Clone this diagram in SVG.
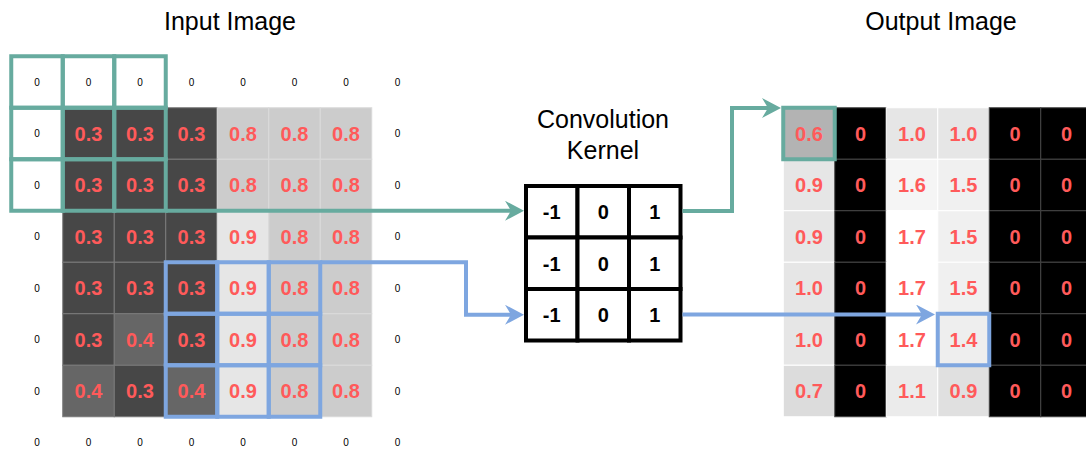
<svg xmlns="http://www.w3.org/2000/svg" width="1086" height="449" viewBox="0 0 1086 449">
<style>
.title{font-family:"Liberation Sans",Arial,sans-serif;font-size:25px;fill:#000;text-anchor:middle}
.z{font-family:"Liberation Sans",Arial,sans-serif;font-size:10px;fill:#000;text-anchor:middle}
.v{font-family:"Liberation Sans",Arial,sans-serif;font-size:20px;font-weight:bold;fill:#FF5A5A;text-anchor:middle}
.k{font-family:"Liberation Sans",Arial,sans-serif;font-size:20px;font-weight:bold;fill:#000;text-anchor:middle}
.d3{fill:#474747;stroke:#7a7a7a;stroke-width:1}
.d4{fill:#666666;stroke:#7a7a7a;stroke-width:1}
.l8{fill:#cccccc;stroke:#dadada;stroke-width:1}
.l9{fill:#e6e6e6;stroke:#dadada;stroke-width:1}
.ob{fill:#000;stroke:#444;stroke-width:1}
.ol{stroke:#ffffff;stroke-width:1}
.kc{fill:#fff;stroke:#000;stroke-width:4}
.gw{fill:none;stroke:#67AB9F;stroke-width:4}
.bw{fill:none;stroke:#7EA6E0;stroke-width:4}
.gl{fill:none;stroke:#67AB9F;stroke-width:4}
.bl{fill:none;stroke:#7EA6E0;stroke-width:4}
</style>
<defs>
<marker id="ag" viewBox="0 0 20 20" refX="11" refY="10" markerWidth="20" markerHeight="20" markerUnits="userSpaceOnUse" orient="auto">
<path d="M0,0 L19,10 L0,20 L6,10 Z" fill="#67AB9F"/>
</marker>
<marker id="ab" viewBox="0 0 20 20" refX="11" refY="10" markerWidth="20" markerHeight="20" markerUnits="userSpaceOnUse" orient="auto">
<path d="M0,0 L19,10 L0,20 L6,10 Z" fill="#7EA6E0"/>
</marker>
</defs>
<rect x="0" y="0" width="1086" height="449" fill="#fff"/>

<g id="title-input"><text class="title" x="230" y="30">Input Image</text></g>
<g id="title-output"><text class="title" x="941" y="30">Output Image</text></g>
<g id="title-kernel"><text class="title" x="603" y="128">Convolution</text><text class="title" x="603" y="159">Kernel</text></g>

<g id="input-image">
<rect class="d3" x="62.75" y="107.75" width="51.5" height="51.5"/><rect class="d3" x="114.25" y="107.75" width="51.5" height="51.5"/><rect class="d3" x="165.75" y="107.75" width="51.5" height="51.5"/><rect class="l8" x="217.25" y="107.75" width="51.5" height="51.5"/><rect class="l8" x="268.75" y="107.75" width="51.5" height="51.5"/><rect class="l8" x="320.25" y="107.75" width="51.5" height="51.5"/>
<rect class="d3" x="62.75" y="159.25" width="51.5" height="51.5"/><rect class="d3" x="114.25" y="159.25" width="51.5" height="51.5"/><rect class="d3" x="165.75" y="159.25" width="51.5" height="51.5"/><rect class="l8" x="217.25" y="159.25" width="51.5" height="51.5"/><rect class="l8" x="268.75" y="159.25" width="51.5" height="51.5"/><rect class="l8" x="320.25" y="159.25" width="51.5" height="51.5"/>
<rect class="d3" x="62.75" y="210.75" width="51.5" height="51.5"/><rect class="d3" x="114.25" y="210.75" width="51.5" height="51.5"/><rect class="d3" x="165.75" y="210.75" width="51.5" height="51.5"/><rect class="l9" x="217.25" y="210.75" width="51.5" height="51.5"/><rect class="l8" x="268.75" y="210.75" width="51.5" height="51.5"/><rect class="l8" x="320.25" y="210.75" width="51.5" height="51.5"/>
<rect class="d3" x="62.75" y="262.25" width="51.5" height="51.5"/><rect class="d3" x="114.25" y="262.25" width="51.5" height="51.5"/><rect class="d3" x="165.75" y="262.25" width="51.5" height="51.5"/><rect class="l9" x="217.25" y="262.25" width="51.5" height="51.5"/><rect class="l8" x="268.75" y="262.25" width="51.5" height="51.5"/><rect class="l8" x="320.25" y="262.25" width="51.5" height="51.5"/>
<rect class="d3" x="62.75" y="313.75" width="51.5" height="51.5"/><rect class="d4" x="114.25" y="313.75" width="51.5" height="51.5"/><rect class="d3" x="165.75" y="313.75" width="51.5" height="51.5"/><rect class="l9" x="217.25" y="313.75" width="51.5" height="51.5"/><rect class="l8" x="268.75" y="313.75" width="51.5" height="51.5"/><rect class="l8" x="320.25" y="313.75" width="51.5" height="51.5"/>
<rect class="d4" x="62.75" y="365.25" width="51.5" height="51.5"/><rect class="d3" x="114.25" y="365.25" width="51.5" height="51.5"/><rect class="d4" x="165.75" y="365.25" width="51.5" height="51.5"/><rect class="l9" x="217.25" y="365.25" width="51.5" height="51.5"/><rect class="l8" x="268.75" y="365.25" width="51.5" height="51.5"/><rect class="l8" x="320.25" y="365.25" width="51.5" height="51.5"/>

<text class="v" x="88.5" y="140.5">0.3</text><text class="v" x="140" y="140.5">0.3</text><text class="v" x="191.5" y="140.5">0.3</text><text class="v" x="243" y="140.5">0.8</text><text class="v" x="294.5" y="140.5">0.8</text><text class="v" x="346" y="140.5">0.8</text>
<text class="v" x="88.5" y="192">0.3</text><text class="v" x="140" y="192">0.3</text><text class="v" x="191.5" y="192">0.3</text><text class="v" x="243" y="192">0.8</text><text class="v" x="294.5" y="192">0.8</text><text class="v" x="346" y="192">0.8</text>
<text class="v" x="88.5" y="243.5">0.3</text><text class="v" x="140" y="243.5">0.3</text><text class="v" x="191.5" y="243.5">0.3</text><text class="v" x="243" y="243.5">0.9</text><text class="v" x="294.5" y="243.5">0.8</text><text class="v" x="346" y="243.5">0.8</text>
<text class="v" x="88.5" y="295">0.3</text><text class="v" x="140" y="295">0.3</text><text class="v" x="191.5" y="295">0.3</text><text class="v" x="243" y="295">0.9</text><text class="v" x="294.5" y="295">0.8</text><text class="v" x="346" y="295">0.8</text>
<text class="v" x="88.5" y="346.5">0.3</text><text class="v" x="140" y="346.5">0.4</text><text class="v" x="191.5" y="346.5">0.3</text><text class="v" x="243" y="346.5">0.9</text><text class="v" x="294.5" y="346.5">0.8</text><text class="v" x="346" y="346.5">0.8</text>
<text class="v" x="88.5" y="398">0.4</text><text class="v" x="140" y="398">0.3</text><text class="v" x="191.5" y="398">0.4</text><text class="v" x="243" y="398">0.9</text><text class="v" x="294.5" y="398">0.8</text><text class="v" x="346" y="398">0.8</text>

<text class="z" x="37" y="85.5">0</text><text class="z" x="88.5" y="85.5">0</text><text class="z" x="140" y="85.5">0</text><text class="z" x="191.5" y="85.5">0</text><text class="z" x="243" y="85.5">0</text><text class="z" x="294.5" y="85.5">0</text><text class="z" x="346" y="85.5">0</text><text class="z" x="397.5" y="85.5">0</text>
<text class="z" x="37" y="446">0</text><text class="z" x="88.5" y="446">0</text><text class="z" x="140" y="446">0</text><text class="z" x="191.5" y="446">0</text><text class="z" x="243" y="446">0</text><text class="z" x="294.5" y="446">0</text><text class="z" x="346" y="446">0</text><text class="z" x="397.5" y="446">0</text>
<text class="z" x="37" y="137">0</text><text class="z" x="37" y="188.5">0</text><text class="z" x="37" y="240">0</text><text class="z" x="37" y="291.5">0</text><text class="z" x="37" y="343">0</text><text class="z" x="37" y="394.5">0</text>
<text class="z" x="397.5" y="137">0</text><text class="z" x="397.5" y="188.5">0</text><text class="z" x="397.5" y="240">0</text><text class="z" x="397.5" y="291.5">0</text><text class="z" x="397.5" y="343">0</text><text class="z" x="397.5" y="394.5">0</text>
</g>

<g id="green-window">
<rect class="gw" x="11.25" y="56.25" width="51.5" height="51.5"/><rect class="gw" x="62.75" y="56.25" width="51.5" height="51.5"/><rect class="gw" x="114.25" y="56.25" width="51.5" height="51.5"/>
<rect class="gw" x="11.25" y="107.75" width="51.5" height="51.5"/><rect class="gw" x="62.75" y="107.75" width="51.5" height="51.5"/><rect class="gw" x="114.25" y="107.75" width="51.5" height="51.5"/>
<rect class="gw" x="11.25" y="159.25" width="51.5" height="51.5"/><rect class="gw" x="62.75" y="159.25" width="51.5" height="51.5"/><rect class="gw" x="114.25" y="159.25" width="51.5" height="51.5"/>
</g>

<g id="blue-window">
<rect class="bw" x="165.75" y="262.25" width="51.5" height="51.5"/><rect class="bw" x="217.25" y="262.25" width="51.5" height="51.5"/><rect class="bw" x="268.75" y="262.25" width="51.5" height="51.5"/>
<rect class="bw" x="165.75" y="313.75" width="51.5" height="51.5"/><rect class="bw" x="217.25" y="313.75" width="51.5" height="51.5"/><rect class="bw" x="268.75" y="313.75" width="51.5" height="51.5"/>
<rect class="bw" x="165.75" y="365.25" width="51.5" height="51.5"/><rect class="bw" x="217.25" y="365.25" width="51.5" height="51.5"/><rect class="bw" x="268.75" y="365.25" width="51.5" height="51.5"/>
</g>

<g id="kernel">
<rect class="kc" x="526" y="186" width="51.5" height="51.5"/><rect class="kc" x="577.5" y="186" width="51.5" height="51.5"/><rect class="kc" x="629" y="186" width="51.5" height="51.5"/>
<rect class="kc" x="526" y="237.5" width="51.5" height="51.5"/><rect class="kc" x="577.5" y="237.5" width="51.5" height="51.5"/><rect class="kc" x="629" y="237.5" width="51.5" height="51.5"/>
<rect class="kc" x="526" y="289" width="51.5" height="51.5"/><rect class="kc" x="577.5" y="289" width="51.5" height="51.5"/><rect class="kc" x="629" y="289" width="51.5" height="51.5"/>
<text class="k" x="551.75" y="219">-1</text><text class="k" x="603.25" y="219">0</text><text class="k" x="654.75" y="219">1</text>
<text class="k" x="551.75" y="270.5">-1</text><text class="k" x="603.25" y="270.5">0</text><text class="k" x="654.75" y="270.5">1</text>
<text class="k" x="551.75" y="322">-1</text><text class="k" x="603.25" y="322">0</text><text class="k" x="654.75" y="322">1</text>
</g>

<g id="output-image">
<rect class="ol" fill="#b3b3b3" x="783.25" y="107.75" width="51.5" height="51.5"/><rect class="ob" x="834.75" y="107.75" width="51.5" height="51.5"/><rect class="ol" fill="#e6e6e6" x="886.25" y="107.75" width="51.5" height="51.5"/><rect class="ol" fill="#e6e6e6" x="937.75" y="107.75" width="51.5" height="51.5"/><rect class="ob" x="989.25" y="107.75" width="51.5" height="51.5"/><rect class="ob" x="1040.75" y="107.75" width="51.5" height="51.5"/>
<rect class="ol" fill="#e6e6e6" x="783.25" y="159.25" width="51.5" height="51.5"/><rect class="ob" x="834.75" y="159.25" width="51.5" height="51.5"/><rect class="ol" fill="#f5f5f5" x="886.25" y="159.25" width="51.5" height="51.5"/><rect class="ol" fill="#f0f0f0" x="937.75" y="159.25" width="51.5" height="51.5"/><rect class="ob" x="989.25" y="159.25" width="51.5" height="51.5"/><rect class="ob" x="1040.75" y="159.25" width="51.5" height="51.5"/>
<rect class="ol" fill="#e6e6e6" x="783.25" y="210.75" width="51.5" height="51.5"/><rect class="ob" x="834.75" y="210.75" width="51.5" height="51.5"/><rect class="ol" fill="#ffffff" x="886.25" y="210.75" width="51.5" height="51.5"/><rect class="ol" fill="#f0f0f0" x="937.75" y="210.75" width="51.5" height="51.5"/><rect class="ob" x="989.25" y="210.75" width="51.5" height="51.5"/><rect class="ob" x="1040.75" y="210.75" width="51.5" height="51.5"/>
<rect class="ol" fill="#e6e6e6" x="783.25" y="262.25" width="51.5" height="51.5"/><rect class="ob" x="834.75" y="262.25" width="51.5" height="51.5"/><rect class="ol" fill="#ffffff" x="886.25" y="262.25" width="51.5" height="51.5"/><rect class="ol" fill="#f0f0f0" x="937.75" y="262.25" width="51.5" height="51.5"/><rect class="ob" x="989.25" y="262.25" width="51.5" height="51.5"/><rect class="ob" x="1040.75" y="262.25" width="51.5" height="51.5"/>
<rect class="ol" fill="#e6e6e6" x="783.25" y="313.75" width="51.5" height="51.5"/><rect class="ob" x="834.75" y="313.75" width="51.5" height="51.5"/><rect class="ol" fill="#ffffff" x="886.25" y="313.75" width="51.5" height="51.5"/><rect class="ol" fill="#eeeeee" x="937.75" y="313.75" width="51.5" height="51.5"/><rect class="ob" x="989.25" y="313.75" width="51.5" height="51.5"/><rect class="ob" x="1040.75" y="313.75" width="51.5" height="51.5"/>
<rect class="ol" fill="#dcdcdc" x="783.25" y="365.25" width="51.5" height="51.5"/><rect class="ob" x="834.75" y="365.25" width="51.5" height="51.5"/><rect class="ol" fill="#ebebeb" x="886.25" y="365.25" width="51.5" height="51.5"/><rect class="ol" fill="#e0e0e0" x="937.75" y="365.25" width="51.5" height="51.5"/><rect class="ob" x="989.25" y="365.25" width="51.5" height="51.5"/><rect class="ob" x="1040.75" y="365.25" width="51.5" height="51.5"/>

<text class="v" x="809" y="140.5">0.6</text><text class="v" x="860.5" y="140.5">0</text><text class="v" x="912" y="140.5">1.0</text><text class="v" x="963.5" y="140.5">1.0</text><text class="v" x="1015" y="140.5">0</text><text class="v" x="1066.5" y="140.5">0</text>
<text class="v" x="809" y="192">0.9</text><text class="v" x="860.5" y="192">0</text><text class="v" x="912" y="192">1.6</text><text class="v" x="963.5" y="192">1.5</text><text class="v" x="1015" y="192">0</text><text class="v" x="1066.5" y="192">0</text>
<text class="v" x="809" y="243.5">0.9</text><text class="v" x="860.5" y="243.5">0</text><text class="v" x="912" y="243.5">1.7</text><text class="v" x="963.5" y="243.5">1.5</text><text class="v" x="1015" y="243.5">0</text><text class="v" x="1066.5" y="243.5">0</text>
<text class="v" x="809" y="295">1.0</text><text class="v" x="860.5" y="295">0</text><text class="v" x="912" y="295">1.7</text><text class="v" x="963.5" y="295">1.5</text><text class="v" x="1015" y="295">0</text><text class="v" x="1066.5" y="295">0</text>
<text class="v" x="809" y="346.5">1.0</text><text class="v" x="860.5" y="346.5">0</text><text class="v" x="912" y="346.5">1.7</text><text class="v" x="963.5" y="346.5">1.4</text><text class="v" x="1015" y="346.5">0</text><text class="v" x="1066.5" y="346.5">0</text>
<text class="v" x="809" y="398">0.7</text><text class="v" x="860.5" y="398">0</text><text class="v" x="912" y="398">1.1</text><text class="v" x="963.5" y="398">0.9</text><text class="v" x="1015" y="398">0</text><text class="v" x="1066.5" y="398">0</text>
</g>

<g id="green-output-box"><rect class="gw" x="783.25" y="107.75" width="51.5" height="51.5"/></g>
<g id="blue-output-box"><rect class="bw" x="937.75" y="313.75" width="51.5" height="51.5"/></g>

<g id="connectors">
<path class="gl" d="M165.75,210.75 H516" marker-end="url(#ag)"/>
<path class="bl" d="M320.25,262.25 H466 V314.75 H516" marker-end="url(#ab)"/>
<path class="gl" d="M682.5,211 H732 V108 H773" marker-end="url(#ag)"/>
<path class="bl" d="M682.5,314.5 H927" marker-end="url(#ab)"/>
</g>
</svg>
